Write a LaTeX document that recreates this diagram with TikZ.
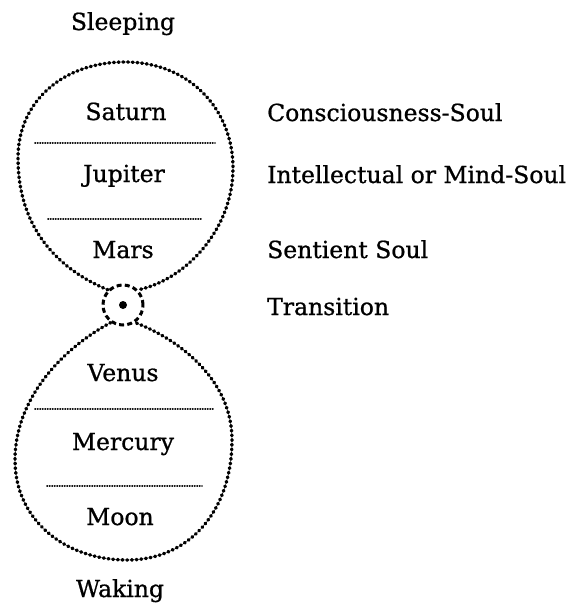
\documentclass[tikz,border=0pt]{standalone}
\usepackage{fontspec}
\setmainfont[FakeBold=0.8]{DejaVu Serif}
\begin{document}
\begin{tikzpicture}[x=1pt,y=-1pt,
  lbl/.style={font=\fontsize{23.5}{28}\selectfont, inner sep=0pt, anchor=base},
  side/.style={lbl, anchor=base west},
  loop/.style={line width=3.4pt, line cap=round, dash pattern=on 1pt off 3.7pt},
  divider/.style={line width=1.9pt, line cap=round, dash pattern=on 0.3pt off 2.2pt},
  ring/.style={circle, draw, line width=3pt, dash pattern=on 5pt off 3.2pt, minimum size=40pt, inner sep=0pt}]
\useasboundingbox (0,0) rectangle (577,610);
% labels
\node[lbl] (sleep) at (123,30) {Sleeping};
\node[lbl] (saturn) at (126,120) {Saturn};
\node[lbl] (jupiter) at (124,182) {Jupiter};
\node[lbl] (mars) at (123,258) {Mars};
\node[lbl] (venus) at (123,381) {Venus};
\node[lbl] (mercury) at (123,450) {Mercury};
\node[lbl] (moon) at (120,525) {Moon};
\node[lbl] (wake) at (120,597) {Waking};
\node[side] (cons) at (267,121) {Consciousness-Soul};
\node[side] (intel) at (267,183) {Intellectual or Mind-Soul};
\node[side] (sent) at (267,258) {Sentient Soul};
\node[side] (trans) at (267,315) {Transition};
% transition ring
\node[ring] (ring) at (123,305) {};
\fill (ring.center) circle (4pt);
% upper loop
\draw[loop] (ring.135) .. controls (60,270) and (18,230) .. (18,158)
  .. controls (18,100) and (65,62) .. (125,62)
  .. controls (190,62) and (233,110) .. (233,168)
  .. controls (233,230) and (185,280) .. (ring.45);
% lower loop
\draw[loop] (ring.-125) .. controls (60,350) and (15,400) .. (15,460)
  .. controls (15,520) and (65,560) .. (127,560)
  .. controls (190,560) and (232,510) .. (232,440)
  .. controls (232,380) and (180,340) .. (ring.-55);
% dividers
\coordinate (d1a) at (35,143); \coordinate (d1b) at (215,143);
\coordinate (d2a) at (48,219); \coordinate (d2b) at (202,219);
\coordinate (d3a) at (35,409); \coordinate (d3b) at (213,409);
\coordinate (d4a) at (47,486); \coordinate (d4b) at (202,486);
\draw[divider] (d1a) -- (d1b);
\draw[divider] (d2a) -- (d2b);
\draw[divider] (d3a) -- (d3b);
\draw[divider] (d4a) -- (d4b);
\end{tikzpicture}
\end{document}
